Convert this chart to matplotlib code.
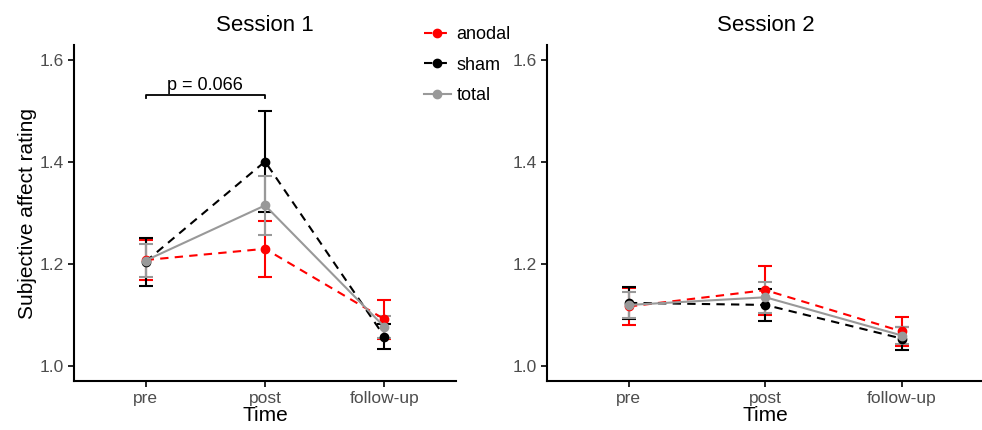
import matplotlib.pyplot as plt
import numpy as np

plt.rcParams['font.family'] = ['Liberation Sans', 'DejaVu Sans']

times = ['pre', 'post', 'follow-up']
groups = ['anodal', 'sham', 'total']
colors = {'anodal': '#ff0000', 'sham': '#000000', 'total': '#999999'}
styles = {'anodal': (0, (4, 3)), 'sham': (0, (4, 3)), 'total': '-'}

# session 1 means and standard errors
s1_mean = {'anodal': [1.208, 1.230, 1.092],
           'sham':   [1.205, 1.401, 1.058],
           'total':  [1.207, 1.315, 1.077]}
s1_err = {'anodal': [0.040, 0.055, 0.038],
          'sham':   [0.047, 0.099, 0.025],
          'total':  [0.032, 0.058, 0.021]}

# session 2
s2_mean = {'anodal': [1.117, 1.149, 1.068],
           'sham':   [1.124, 1.120, 1.054],
           'total':  [1.120, 1.135, 1.060]}
s2_err = {'anodal': [0.037, 0.048, 0.028],
          'sham':   [0.032, 0.032, 0.023],
          'total':  [0.026, 0.030, 0.017]}

fig = plt.figure(figsize=(9.82, 4.3), dpi=100)
ax1 = fig.add_axes([0.0754, 0.114, 0.389, 0.781])
ax2 = fig.add_axes([0.557, 0.114, 0.445, 0.781])

x = np.arange(len(times))
handles = []
for ax, means, errs, title in [(ax1, s1_mean, s1_err, 'Session 1'),
                               (ax2, s2_mean, s2_err, 'Session 2')]:
    for g in groups:
        ax.errorbar(x, means[g], yerr=errs[g], color=colors[g], fmt='none',
                    capsize=5, elinewidth=1.5, capthick=1.5, zorder=2)
        h, = ax.plot(x, means[g], color=colors[g], linestyle=styles[g],
                     linewidth=1.5, marker='o', markersize=6, zorder=3)
        if ax is ax1:
            handles.append(h)
    ax.set_xlim(-0.6, 2.6)
    ax.set_ylim(0.971, 1.629)
    ax.set_yticks([1.0, 1.2, 1.4, 1.6])
    ax.set_yticklabels(['1.0', '1.2', '1.4', '1.6'])
    ax.set_xticks(x)
    ax.set_xticklabels(times)
    ax.set_title(title, fontsize=16, pad=10)
    ax.set_xlabel('Time', fontsize=15, labelpad=0)
    for s in ['top', 'right']:
        ax.spines[s].set_visible(False)
    for s in ['left', 'bottom']:
        ax.spines[s].set_linewidth(1.5)
    ax.tick_params(labelsize=12.5, labelcolor='#4d4d4d', width=1.2, length=4)

ax1.set_ylabel('Subjective affect rating', fontsize=15, labelpad=2)

# significance bracket
ax1.plot([0, 0, 1, 1], [1.525, 1.531, 1.531, 1.525], color='black', lw=1.3)
ax1.text(0.5, 1.534, 'p = 0.066', ha='center', va='bottom', fontsize=13)

fig.legend(handles, groups, loc='upper left', bbox_to_anchor=(0.415, 0.977),
           frameon=False, fontsize=13, handlelength=1.5, handletextpad=0.3,
           labelspacing=0.75)

fig.savefig('out.png', dpi=100)
